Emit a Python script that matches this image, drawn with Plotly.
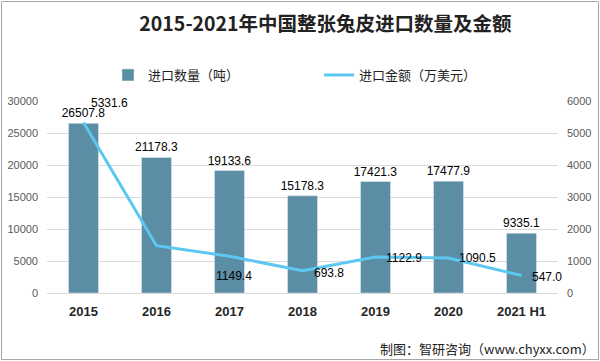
import plotly.graph_objects as go

categories = ["2015", "2016", "2017", "2018", "2019", "2020", "2021 H1"]
quantity = [26507.8, 21178.3, 19133.6, 15178.3, 17421.3, 17477.9, 9335.1]
amount = [5331.6, 1480.0, 1149.4, 693.8, 1122.9, 1090.5, 547.0]
amount_labels = ["5331.6", "", "1149.4", "693.8", "1122.9", "1090.5", "547.0"]
# label offsets (pixels) relative to the line point
amount_label_dx = [26, 0, 4, 26, 28, 29, 25]
amount_label_dy = [19, 0, -20, -2, -1, 0, -1]

bar_color = "#5B8DA5"
line_color = "#5CC8F2"

L, R, T, B = 47, 42, 101, 68
W, H = 600, 361
PW, PH = W - L - R, H - T - B

fig = go.Figure()
fig.add_trace(go.Bar(
    x=categories, y=quantity, name="进口数量（吨）",
    marker_color=bar_color, width=0.41,
    text=[f"{v:.1f}" for v in quantity], textposition="outside",
    constraintext="none",
    textfont=dict(size=12, color="#000000", family="Liberation Sans, Arial"),
    cliponaxis=False,
))
fig.add_trace(go.Scatter(
    x=categories, y=amount, name="进口金额（万美元）", yaxis="y2",
    mode="lines", line=dict(color=line_color, width=3),
    cliponaxis=False,
))
# annotations on a category axis use the category's serial number
for i, (v, t, dx, dy) in enumerate(zip(amount, amount_labels, amount_label_dx, amount_label_dy)):
    if t:
        fig.add_annotation(x=i, y=v, xref="x", yref="y2", text=t, showarrow=False,
                           xshift=dx, yshift=dy,
                           font=dict(size=12, color="#000000", family="Liberation Sans, Arial"))

fig.update_layout(
    width=W, height=H,
    paper_bgcolor="white", plot_bgcolor="white",
    margin=dict(l=L, r=R, t=T, b=B, autoexpand=False),
    title=dict(text="<b>2015-2021年中国整张兔皮进口数量及金额</b>",
               x=(325.5 - L) / PW, xanchor="center", xref="paper",
               y=1 - 24 / H, yanchor="middle",
               font=dict(size=19.5, color="#222222", family="Noto Sans CJK SC")),
    font=dict(family="Noto Sans CJK SC", size=12, color="#595959"),
    showlegend=True,
    legend=dict(orientation="h", x=(108 - L) / PW, y=(H - B - 75) / PH,
                xanchor="left", yanchor="middle",
                font=dict(size=13, color="#222222"), entrywidth=166,
                bgcolor="rgba(0,0,0,0)"),
    xaxis=dict(type="category", range=[-0.5, 6.5], showgrid=False, showline=True,
               linecolor="#D9D9D9",
               tickfont=dict(size=13, color="#262626", family="Liberation Sans, Arial"),
               ticks="", ticklabelstandoff=6),
    yaxis=dict(range=[0, 30000], dtick=5000, tickformat="d", showgrid=True, gridcolor="#D9D9D9",
               zeroline=False, tickfont=dict(size=11, color="#595959", family="Liberation Sans, Arial"),
               ticklabelstandoff=8),
    yaxis2=dict(range=[0, 6000], dtick=1000, tickformat="d", overlaying="y", side="right",
                showgrid=False, zeroline=False,
                tickfont=dict(size=11, color="#595959", family="Liberation Sans, Arial"),
                ticklabelstandoff=8),
    bargap=0.58,
)
fig.update_xaxes(tickprefix="<b>", ticksuffix="</b>")

fig.add_annotation(text="制图：智研咨询（www.chyxx.com）", xref="paper", yref="paper",
                   x=(597 - L) / PW, y=(H - B - 348) / PH, xanchor="right", yanchor="middle",
                   showarrow=False,
                   font=dict(size=13, color="#222222", family="Noto Sans CJK SC"))
fig.add_shape(type="rect", xref="paper", yref="paper",
              x0=(1.5 - L) / PW, x1=(598.5 - L) / PW,
              y0=(H - B - 359.5) / PH, y1=(H - B - 1.5) / PH,
              line=dict(color="#A6A6A6", width=1))

fig.write_html("out.html", config={"displayModeBar": False},
               post_script="document.body.style.margin='0';")
